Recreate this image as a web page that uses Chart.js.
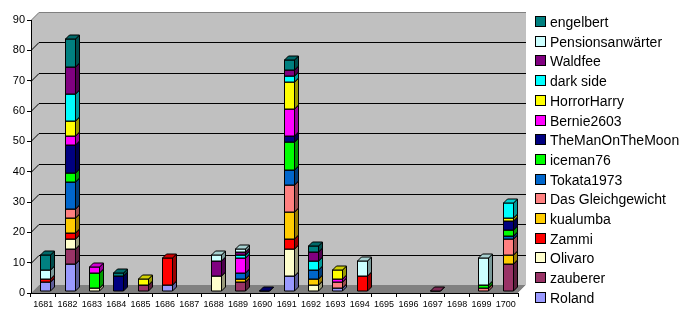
<!DOCTYPE html>
<html>
<head>
<meta charset="utf-8">
<script src="https://cdn.jsdelivr.net/npm/chart.js@4"></script>
<style>
  body { margin: 0; background: #fff; }
  canvas { display: block; }
</style>
</head>
<body>
<canvas id="myChart" width="690" height="320"></canvas>
<script>
// categories (years)
const years = ['1681','1682','1683','1684','1685','1686','1687','1688','1689','1690',
               '1691','1692','1693','1694','1695','1696','1697','1698','1699','1700'];

// series values, bottom of the stack first
const roland      = [3,9,null,null,null,2,null,null,null,null,5,null,1,null,null,null,null,null,null,null];
const zauberer    = [null,5,null,null,2,null,null,null,3,null,null,null,null,null,null,null,0,null,null,9];
const olivaro     = [null,3,1,null,null,null,null,5,null,null,9,2,null,null,null,null,null,null,null,null];
const zammi       = [1,2,null,null,null,9,null,null,null,null,3,null,null,5,null,null,null,null,null,null];
const kualumba    = [null,5,null,null,null,null,null,null,1,null,9,2,null,null,null,null,null,null,null,3];
const gleichgew   = [null,3,null,null,null,null,null,null,null,null,9,null,2,null,null,null,null,null,1,5];
const tokata      = [null,9,null,null,null,null,null,null,2,null,5,3,null,null,null,null,null,null,null,1];
const iceman      = [null,3,5,null,null,null,null,null,null,null,9,null,null,null,null,null,null,null,1,2];
const manOnMoon   = [null,9,null,5,null,null,null,null,null,0,2,null,null,null,null,null,null,null,null,3];
const bernie      = [null,3,2,null,null,null,null,null,5,null,9,null,1,null,null,null,null,null,null,null];
const horrorHarry = [null,5,null,null,2,null,null,null,null,null,9,null,3,null,null,null,null,null,null,1];
const darkSide    = [null,9,null,null,null,null,null,null,1,null,2,3,null,null,null,null,null,null,null,5];
const waldfee     = [null,9,null,null,null,null,null,5,1,null,2,3,null,null,null,null,null,null,null,null];
const pensions    = [3,null,null,null,null,null,null,2,1,null,null,null,null,5,null,null,null,null,9,null];
const engelbert   = [5,9,null,1,null,null,null,null,null,null,3,2,null,null,null,null,null,null,null,null];

const seriesNames = ['Roland','zauberer','Olivaro','Zammi','kualumba','Das Gleichgewicht','Tokata1973',
  'iceman76','TheManOnTheMoon','Bernie2603','HorrorHarry','dark side','Waldfee','Pensionsanwärter','engelbert'];
const seriesValues = [roland, zauberer, olivaro, zammi, kualumba, gleichgew, tokata,
  iceman, manOnMoon, bernie, horrorHarry, darkSide, waldfee, pensions, engelbert];
const seriesColors = ['#9999FF','#993366','#FFFFCC','#FF0000','#FFCC00','#FF8080','#0066CC',
  '#00FF00','#000080','#FF00FF','#FFFF00','#00FFFF','#800080','#CCFFFF','#008080'];

const yTicks = [0, 90, 10]; // min, max, step

// 3d look: wall depth and bar depth
const WALL = 8;
const BAR_D = 4;
const BAR_SHIFT = { x: 2, y: -2.5 };

const shade = (hex, f) => {
  const n = parseInt(hex.slice(1), 16);
  const r = Math.round(((n >> 16) & 255) * f);
  const g = Math.round(((n >> 8) & 255) * f);
  const b = Math.round((n & 255) * f);
  return `rgb(${r},${g},${b})`;
};

const poly = (ctx, pts, fill) => {
  ctx.beginPath();
  ctx.moveTo(pts[0][0], pts[0][1]);
  for (let i = 1; i < pts.length; i++) ctx.lineTo(pts[i][0], pts[i][1]);
  ctx.closePath();
  if (fill) { ctx.fillStyle = fill; ctx.fill(); }
};

// walls, floor and gridlines behind the bars
const wallsPlugin = {
  id: 'walls',
  beforeDraw(chart) {
    const { ctx, chartArea: a, scales: { y } } = chart;
    const d = WALL;
    ctx.save();
    // back wall
    ctx.fillStyle = '#C0C0C0';
    ctx.fillRect(a.left + d, a.top - d, a.right - a.left, a.bottom - a.top);
    // side wall
    poly(ctx, [[a.left, a.top], [a.left + d, a.top - d], [a.left + d, a.bottom - d], [a.left, a.bottom]], '#C0C0C0');
    // floor
    poly(ctx, [[a.left, a.bottom], [a.right, a.bottom], [a.right + d, a.bottom - d], [a.left + d, a.bottom - d]], '#808080');
    ctx.strokeStyle = '#E8E8E8';
    ctx.lineWidth = 1;
    ctx.beginPath();
    ctx.moveTo(a.right, a.bottom); ctx.lineTo(a.right + d, a.bottom - d);
    ctx.stroke();

    // gridlines on side + back wall
    ctx.strokeStyle = '#000';
    y.ticks.forEach(t => {
      if (t.value === yTicks[0] || t.value === yTicks[1]) return;
      const py = Math.round(y.getPixelForValue(t.value)) + 0.5;
      ctx.beginPath();
      ctx.moveTo(a.left, py);
      ctx.lineTo(a.left + d, py - d);
      ctx.lineTo(a.right + d, py - d);
      ctx.stroke();
    });
    // top edge
    ctx.strokeStyle = '#808080';
    ctx.beginPath();
    ctx.moveTo(a.left, a.top + 0.5);
    ctx.lineTo(a.left + d, a.top - d + 0.5);
    ctx.lineTo(a.right + d, a.top - d + 0.5);
    ctx.stroke();
    ctx.restore();
  }
};

// redraw every bar as a small box, bottom of the stack first,
// shifted back into the depth of the floor
const barsPlugin = {
  id: 'bars3d',
  afterDatasetsDraw(chart) {
    const { ctx } = chart;
    const d = BAR_D;
    ctx.save();
    ctx.translate(BAR_SHIFT.x, BAR_SHIFT.y);
    ctx.strokeStyle = '#000';
    ctx.lineWidth = 1;
    chart.data.datasets.forEach((ds, di) => {
      const meta = chart.getDatasetMeta(di);
      const color = seriesColors[di];
      meta.data.forEach((bar, i) => {
        if (ds.data[i] === null || ds.data[i] === undefined) return;
        const { x, y, base, width } = bar.getProps(['x', 'y', 'base', 'width'], true);
        const l = Math.round(x - width / 2) + 0.5;
        const r = l + width;
        const top = Math.round(Math.min(y, base)) + 0.5;
        const bottom = Math.round(Math.max(y, base)) + 0.5;
        // front
        poly(ctx, [[l, top], [r, top], [r, bottom], [l, bottom]], color);
        ctx.stroke();
        // side
        poly(ctx, [[r, top], [r + d, top - d], [r + d, bottom - d], [r, bottom]], shade(color, 0.6));
        ctx.stroke();
        // top
        poly(ctx, [[l, top], [r, top], [r + d, top - d], [l + d, top - d]], shade(color, 0.82));
        ctx.stroke();
      });
    });
    ctx.restore();
  }
};

// legend on the right, top entry = last series
const legendPlugin = {
  id: 'sideLegend',
  afterDraw(chart) {
    const { ctx } = chart;
    ctx.save();
    ctx.font = '14px "Liberation Sans", Arial, sans-serif';
    ctx.textBaseline = 'middle';
    const n = seriesNames.length;
    for (let k = 0; k < n; k++) {
      const i = n - 1 - k;
      const cy = Math.round(22 + k * 19.7);
      ctx.fillStyle = seriesColors[i];
      ctx.fillRect(536, cy - 5, 9, 9);
      ctx.strokeStyle = '#000';
      ctx.strokeRect(535.5, cy - 5.5, 10, 10);
      ctx.fillStyle = '#000';
      ctx.fillText(seriesNames[i], 550, cy + 1);
    }
    ctx.restore();
  }
};

const ctx = document.getElementById('myChart').getContext('2d');
new Chart(ctx, {
  type: 'bar',
  data: {
    labels: years,
    datasets: seriesNames.map((name, i) => ({
      label: name,
      data: seriesValues[i],
      backgroundColor: 'rgba(0,0,0,0)',
      borderWidth: 0,
      barThickness: 10,
    })),
  },
  options: {
    responsive: false,
    animation: false,
    layout: { padding: { left: 0, top: 20, right: 172, bottom: 0 } },
    plugins: {
      legend: { display: false },
      tooltip: { enabled: false },
    },
    scales: {
      x: {
        stacked: true,
        grid: { drawOnChartArea: false, drawTicks: true, tickLength: 4, color: '#000', offset: true },
        border: { display: true, color: '#000' },
        ticks: { color: '#000', padding: 2, maxRotation: 0, autoSkip: false,
                 font: { family: '"Liberation Sans Narrow", "Liberation Sans", Arial', size: 9 } },
        afterFit: (scale) => { scale.height = 27; },
      },
      y: {
        stacked: true,
        min: yTicks[0],
        max: yTicks[1],
        ticks: { stepSize: yTicks[2], color: '#000', padding: 2,
                 font: { family: '"Liberation Sans", Arial', size: 11 } },
        grid: { drawOnChartArea: false, drawTicks: true, tickLength: 4, color: '#000' },
        border: { display: true, color: '#000' },
        afterFit: (scale) => { scale.width = 31; },
      },
    },
  },
  plugins: [wallsPlugin, barsPlugin, legendPlugin],
});
</script>
</body>
</html>
